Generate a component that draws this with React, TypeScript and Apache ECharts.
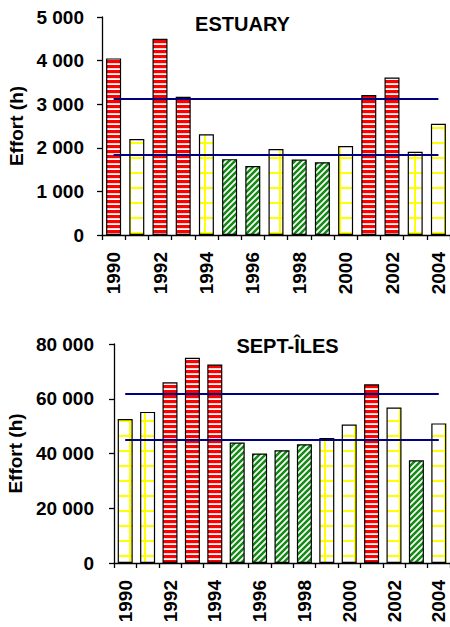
import React, { useEffect, useRef } from 'react';
import * as echarts from 'echarts';

// ---------- data ----------
const years = ['1990', '1991', '1992', '1993', '1994', '1995', '1996', '1997', '1998', '1999', '2000', '2001', '2002', '2003', '2004'];

const estuaryTitle = 'ESTUARY';
const estuaryEffort = [4050, 2200, 4500, 3170, 2310, 1740, 1580, 1970, 1730, 1670, 2040, 3210, 3610, 1910, 2550];
const estuaryLevel = ['high', 'mid', 'high', 'high', 'mid', 'low', 'low', 'mid', 'low', 'low', 'mid', 'high', 'high', 'mid', 'mid'];
const estuaryBands = [1830, 3130];
const estuaryAxis = [0, 5000, 1000]; // min, max, interval

const septTitle = 'SEPT-ÎLES';
const septEffort = [52600, 55200, 66000, 75000, 72500, 44000, 40000, 41200, 43400, 45700, 50600, 65300, 56800, 37500, 51000];
const septLevel = ['mid', 'mid', 'high', 'high', 'high', 'low', 'low', 'low', 'low', 'mid', 'mid', 'high', 'mid', 'low', 'mid'];
const septBands = [45200, 61700];
const septAxis = [0, 80000, 20000];

const yAxisName = 'Effort (h)';

const FONT = 'Arial, "Liberation Sans", Helvetica, sans-serif';

function tile(w: number, h: number, draw: (ctx: CanvasRenderingContext2D) => void) {
  const c = document.createElement('canvas');
  c.width = w;
  c.height = h;
  const ctx = c.getContext('2d') as CanvasRenderingContext2D;
  ctx.fillStyle = '#ffffff';
  ctx.fillRect(0, 0, w, h);
  draw(ctx);
  return { image: c.toDataURL(), repeat: 'repeat', imageWidth: w, imageHeight: h };
}

function makePatterns(rowOffset: number) {
  const red = tile(4, 5, (ctx) => {
    ctx.fillStyle = '#ff0000';
    ctx.fillRect(0, 0, 4, 3);
    ctx.fillStyle = '#ffd0d0';
    ctx.fillRect(0, 3, 4, 1);
  });
  const yellow = tile(15, 15, (ctx) => {
    ctx.fillStyle = '#ffff00';
    ctx.fillRect(0, rowOffset, 15, 2);
    ctx.fillRect(9, 0, 2, 15);
  });
  const green = tile(6, 6, (ctx) => {
    ctx.strokeStyle = '#138a13';
    ctx.lineWidth = 2.5;
    ctx.beginPath();
    for (const c of [0, 6, 12]) {
      ctx.moveTo(c - 7, 7);
      ctx.lineTo(c + 1, -1);
    }
    ctx.stroke();
  });
  return { high: red, mid: yellow, low: green } as Record<string, any>;
}

function fmt(v: number) {
  return String(v).replace(/\B(?=(\d{3})+(?!\d))/g, ' ');
}

const labelStyle = { fontFamily: FONT, fontWeight: 'bold' as const, fontSize: 19, color: '#000' };

export default function App() {
  const ref = useRef<HTMLDivElement>(null);

  useEffect(() => {
    if (!ref.current) return;
    const chart = echarts.init(ref.current, undefined, { renderer: 'svg' });

    const panels = [
      {
        title: estuaryTitle, values: estuaryEffort, level: estuaryLevel, bands: estuaryBands, axis: estuaryAxis,
        grid: { left: 102, top: 17, width: 348, height: 218 }, pat: makePatterns(7),
        yMargin: 18, nameGap: 72, titleX: 242.5, titleY: 24,
      },
      {
        title: septTitle, values: septEffort, level: septLevel, bands: septBands, axis: septAxis,
        grid: { left: 114, top: 344, width: 336, height: 219 }, pat: makePatterns(0),
        yMargin: 20, nameGap: 84, titleX: 287.5, titleY: 346,
      },
    ];

    const option: any = {
      animation: false,
      backgroundColor: '#ffffff',
      grid: panels.map((p) => ({ ...p.grid, containLabel: false, outerBoundsMode: 'none' })),
      xAxis: panels.map((p, i) => ({
        type: 'category',
        gridIndex: i,
        data: years,
        boundaryGap: true,
        axisLine: { show: true, lineStyle: { color: '#000', width: 1.3 } },
        axisTick: { show: true, interval: 0, length: 5, lineStyle: { color: '#000', width: 1.3 } },
        axisLabel: { ...labelStyle, interval: 1, rotate: 90, margin: 17 },
        splitLine: { show: false },
      })),
      yAxis: panels.map((p, i) => ({
        type: 'value',
        gridIndex: i,
        min: p.axis[0],
        max: p.axis[1],
        interval: p.axis[2],
        name: yAxisName,
        nameLocation: 'middle',
        nameGap: p.nameGap,
        nameTextStyle: { fontFamily: FONT, fontWeight: 'bold', fontSize: 19, color: '#000' },
        axisLine: { show: true, lineStyle: { color: '#000', width: 1.3 } },
        axisTick: { show: true, length: 5, lineStyle: { color: '#000', width: 1.3 } },
        axisLabel: { ...labelStyle, margin: p.yMargin, formatter: (v: number) => fmt(v) },
        splitLine: { show: false },
      })),
      graphic: panels.map((p) => ({
        type: 'text',
        x: p.titleX,
        y: p.titleY,
        silent: true,
        style: {
          text: p.title,
          fill: '#000',
          font: `bold 20px ${FONT}`,
          align: 'center',
          verticalAlign: 'middle',
        },
      })),
      series: panels.map((p, i) => ({
        type: 'bar',
        xAxisIndex: i,
        yAxisIndex: i,
        barWidth: 15,
        emphasis: { disabled: true },
        itemStyle: { borderColor: '#000', borderWidth: 1.2 },
        data: p.values.map((v, j) => ({ value: v, itemStyle: { color: p.pat[p.level[j]] } })),
        markLine: {
          silent: true,
          symbol: ['none', 'none'],
          label: { show: false },
          emphasis: { disabled: true },
          lineStyle: { color: '#000080', width: 2, type: 'solid' },
          data: p.bands.map((b) => [{ coord: [0, b] }, { coord: [years.length - 1, b] }]),
        },
      })),
    };

    chart.setOption(option);
    return () => chart.dispose();
  }, []);

  return (
    <div
      ref={ref}
      style={{ position: 'absolute', left: 0, top: 0, width: 450, height: 627, background: '#fff' }}
    />
  );
}
